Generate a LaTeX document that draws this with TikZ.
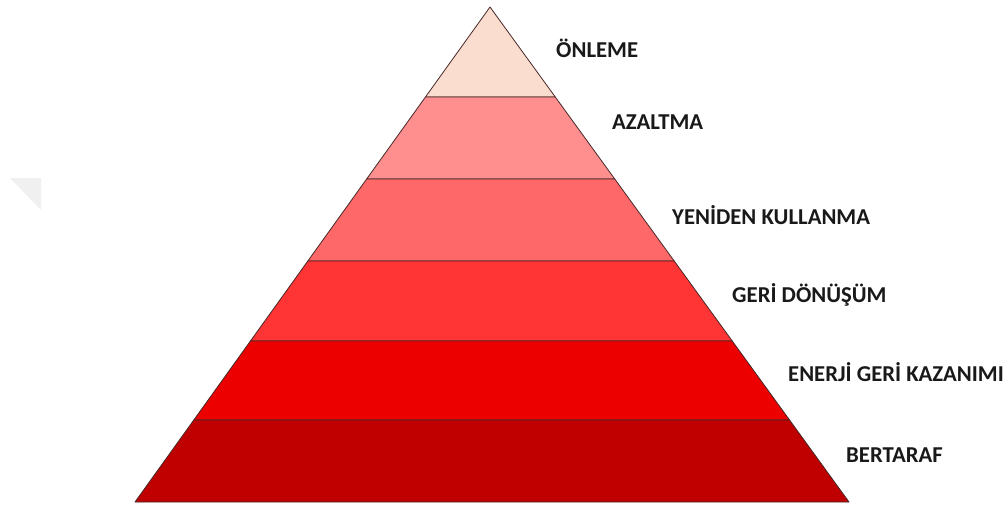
\documentclass[tikz,border=0pt]{standalone}
\usepackage{fontspec}
\setmainfont{Carlito}
\usetikzlibrary{calc}
\definecolor{c1}{RGB}{250,221,206}
\definecolor{c2}{RGB}{255,143,143}
\definecolor{c3}{RGB}{255,104,104}
\definecolor{c4}{RGB}{255,52,52}
\definecolor{c5}{RGB}{236,0,0}
\definecolor{c6}{RGB}{192,0,0}
\definecolor{edge}{RGB}{70,40,40}
\tikzset{
  layer/.style={draw=edge, line width=0.8pt, line join=round},
  lbl/.style={anchor=west, inner sep=0pt, font=\fontsize{22.7}{26}\selectfont\bfseries, text=black!90}
}
\begin{document}
\begin{tikzpicture}[x=1pt,y=-1pt]
\useasboundingbox (0,0) rectangle (1008,509);
\fill[white] (0,0) rectangle (1008,509);
% faint watermark triangle
\fill[black!6] (10,178) -- (41,178) -- (41,210) -- cycle;
\coordinate (A) at (490,7);
\coordinate (BL) at (135,502);
\coordinate (BR) at (849,502);
\foreach \n/\t in {1/0.1818,2/0.3475,3/0.5131,4/0.6747,5/0.8343}{
  \coordinate (L\n) at ($(A)!\t!(BL)$);
  \coordinate (R\n) at ($(A)!\t!(BR)$);
}
\filldraw[layer, fill=c1] (A) -- (R1) -- (L1) -- cycle;
\filldraw[layer, fill=c2] (L1) -- (R1) -- (R2) -- (L2) -- cycle;
\filldraw[layer, fill=c3] (L2) -- (R2) -- (R3) -- (L3) -- cycle;
\filldraw[layer, fill=c4] (L3) -- (R3) -- (R4) -- (L4) -- cycle;
\filldraw[layer, fill=c5] (L4) -- (R4) -- (R5) -- (L5) -- cycle;
\filldraw[layer, fill=c6] (L5) -- (R5) -- (BR) -- (BL) -- cycle;
\node[lbl] (t1) at (556,48) {ÖNLEME};
\node[lbl] (t2) at (612,122) {AZALTMA};
\node[lbl] (t3) at (672,215) {YENİDEN KULLANMA};
\node[lbl] (t4) at (732,295) {GERİ DÖNÜŞÜM};
\node[lbl] (t5) at (788,372) {ENERJİ GERİ KAZANIMI};
\node[lbl] (t6) at (846,455) {BERTARAF};
\end{tikzpicture}
\end{document}
